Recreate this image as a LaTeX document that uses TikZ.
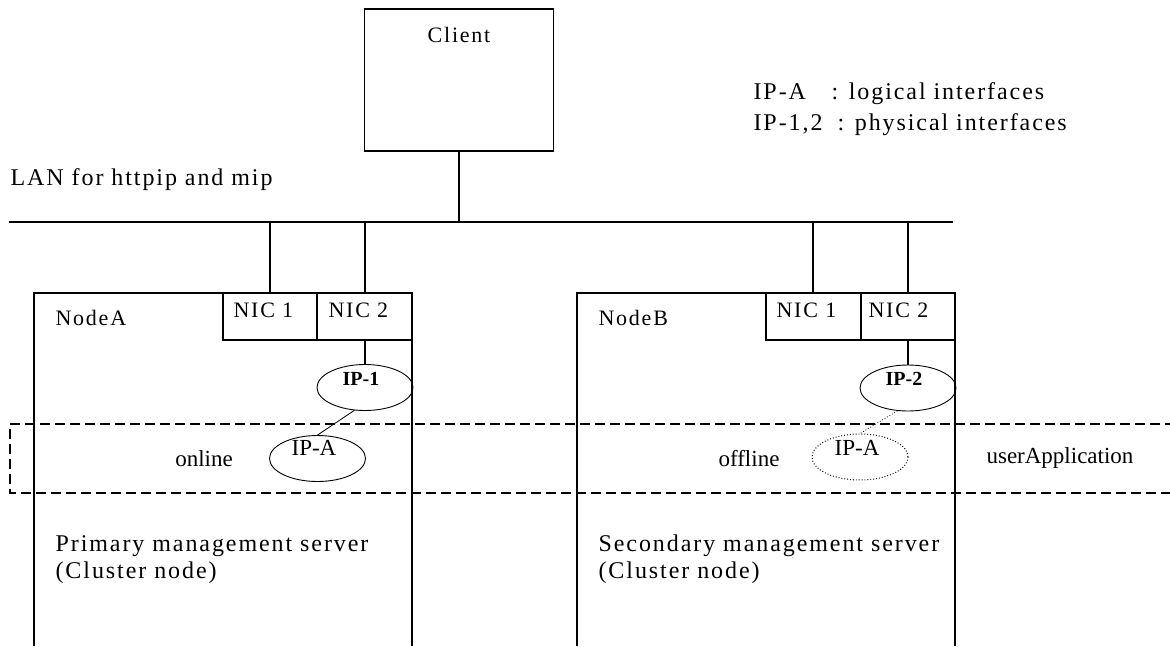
\documentclass[tikz,border=0pt]{standalone}
\usepackage{fontspec}
\setmainfont{Liberation Serif}[LetterSpace=8]
\newfontfamily\plainserif{Liberation Serif}
\usetikzlibrary{shapes.geometric}
\begin{document}
\begin{tikzpicture}[x=1pt,y=-1pt,line width=1.2pt,
  txt/.style={font=\fontsize{22}{26}\selectfont, inner sep=0pt},
  big/.style={font=\fontsize{24}{28}\selectfont, inner sep=0pt},
  small/.style={font=\plainserif\fontsize{23}{26}\selectfont, inner sep=0pt},
  iplab/.style={font=\plainserif\bfseries\fontsize{20}{24}\selectfont, inner sep=0pt},
  boxn/.style={draw, line width=1.3pt, inner sep=0pt, rectangle},
  ipell/.style={draw, ellipse, line width=0.9pt, minimum width=96pt, minimum height=46pt, inner sep=0pt},
  wire/.style={line width=1.3pt},
  thin/.style={line width=0.8pt},
  grp/.style={dashed, line width=1.1pt, dash pattern=on 10pt off 5pt}]
\useasboundingbox (0,0) rectangle (1170,646);
% client
\node[boxn, minimum width=189pt, minimum height=142pt] (client) at (459,80) {};
\node[txt, anchor=base] (clienttxt) at (459,42) {Client};
% LAN
\coordinate (lanL) at (9,222);
\coordinate (lanR) at (953,222);
\draw[wire] (lanL) -- (lanR);
\node[big, anchor=base west] (lantxt) at (10,185) {LAN for httpip and mip};
\draw[wire] (client.south) -- (client.south |- lanL);
% legend
\node[big, anchor=base west] (lg1a) at (753,99) {IP-A};
\node[big, anchor=base west] (lg1b) at (831,99) {: logical interfaces};
\node[big, anchor=base west] (lg2a) at (753,130) {IP-1,2};
\node[big, anchor=base west] (lg2b) at (837,130) {: physical interfaces};
% node boxes
\draw[wire] (34,646) -- (34,293) -- (412,293) -- (412,646);
\draw[wire] (577,646) -- (577,293) -- (955,293) -- (955,646);
\node[txt, anchor=base west] (nodeA) at (55,325) {NodeA};
\node[txt, anchor=base west] (nodeB) at (598,325) {NodeB};
% NICs
\node[boxn, minimum width=94pt, minimum height=47pt] (a1) at (270,316.5) {};
\node[boxn, minimum width=95pt, minimum height=47pt] (a2) at (364.5,316.5) {};
\node[boxn, minimum width=95pt, minimum height=47pt] (b1) at (813.5,316.5) {};
\node[boxn, minimum width=94pt, minimum height=47pt] (b2) at (908,316.5) {};
\node[txt, anchor=base west] (a1t) at (233,317) {NIC 1};
\node[txt, anchor=base west] (a2t) at (328,317) {NIC 2};
\node[txt, anchor=base west] (b1t) at (776,317) {NIC 1};
\node[txt, anchor=base west] (b2t) at (868,317) {NIC 2};
\draw[wire] (a1.north) -- (a1.north |- lanL);
\draw[wire] ([xshift=0.5pt]a2.north) -- ([xshift=0.5pt]a2.north |- lanL);
\draw[wire] ([xshift=-0.5pt]b1.north) -- ([xshift=-0.5pt]b1.north |- lanL);
\draw[wire] (b2.north) -- (b2.north |- lanL);
% group
\draw[grp] (1175,424) -- (10,424) -- (10,493) -- (1175,493);
% IP ellipses A
\node[ipell] (ip1) at (365,387.5) {};
\node[iplab, anchor=base] (ip1t) at (361,385) {IP-1};
\draw[wire] ([xshift=0.5pt]a2.south) -- (ip1.north);
\node[ipell] (ipa) at (317.5,458.5) {};
\node[small, anchor=base] (ipat) at (314,455) {IP-A};
\draw[thin] (ip1.-115) -- (ipa.north);
\node[small, anchor=base] (online) at (204,466) {online};
% IP ellipses B
\node[ipell] (ip2) at (908,388) {};
\node[iplab, anchor=base] (ip2t) at (904,385) {IP-2};
\draw[wire] (b2.south) -- (ip2.north);
\node[ipell, dotted, line width=1pt] (ipb) at (860,457) {};
\node[small, anchor=base] (ipbt) at (857,455) {IP-A};
\draw[thin, dotted] (ip2.-115) -- (ipb.north);
\node[small, anchor=base] (offline) at (749,466) {offline};
\node[small, anchor=base] (uapp) at (1060,463) {userApplication};
% server texts
\node[big, anchor=base west] (srvA1) at (55,551) {Primary management server};
\node[big, anchor=base west] (srvA2) at (55,578) {(Cluster node)};
\node[big, anchor=base west] (srvB1) at (598,551) {Secondary management server};
\node[big, anchor=base west] (srvB2) at (598,578) {(Cluster node)};
\end{tikzpicture}
\end{document}
